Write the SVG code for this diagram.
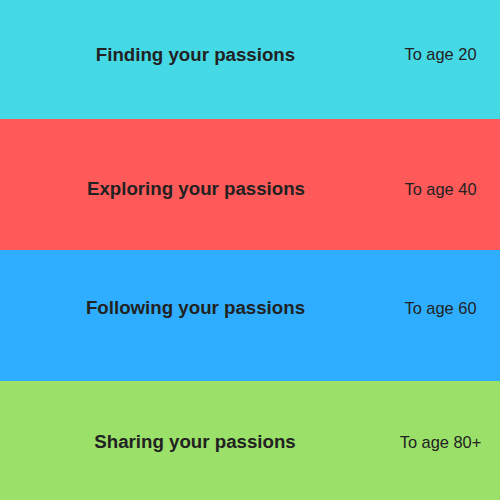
<svg xmlns="http://www.w3.org/2000/svg" width="500" height="500" viewBox="0 0 500 500">
<style>
.t{font-family:"Liberation Sans",Arial,sans-serif;font-weight:bold;font-size:18.7px;fill:#222;text-anchor:middle}
.a{font-family:"Liberation Sans",Arial,sans-serif;font-size:16.4px;fill:#222;text-anchor:middle}
</style>
<g id="band1"><rect x="0" y="0" width="500" height="119" fill="#45D9E6"/><text class="t" x="195.5" y="61">Finding your passions</text><text class="a" x="440.5" y="60">To age 20</text></g>
<g id="band2"><rect x="0" y="119" width="500" height="131" fill="#FF5A5A"/><text class="t" x="196" y="195">Exploring your passions</text><text class="a" x="440.5" y="195">To age 40</text></g>
<g id="band3"><rect x="0" y="250" width="500" height="131" fill="#2FAEFF"/><text class="t" x="195.5" y="314">Following your passions</text><text class="a" x="440.5" y="314">To age 60</text></g>
<g id="band4"><rect x="0" y="381" width="500" height="119" fill="#9AE069"/><text class="t" x="195" y="448">Sharing your passions</text><text class="a" x="440.5" y="448">To age 80+</text></g>
</svg>
